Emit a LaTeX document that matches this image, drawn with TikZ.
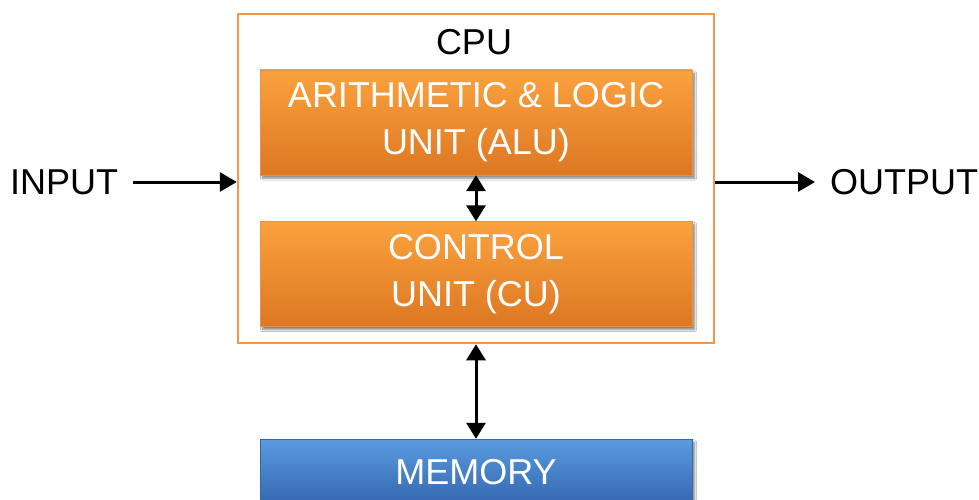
\documentclass[tikz,border=0pt]{standalone}
\usepackage{fontspec}
\setmainfont{Liberation Sans}
\usetikzlibrary{arrows.meta,positioning,shadows.blur}
\definecolor{cpuedge}{HTML}{F79646}
\definecolor{unittop}{HTML}{FBA23E}
\definecolor{unitbot}{HTML}{DD7722}
\definecolor{memtop}{HTML}{5A9BE0}
\definecolor{membot}{HTML}{3466AE}
\newcommand{\bigtext}{\fontsize{36}{47}\selectfont}

\tikzset{
  unitbox/.style={minimum width=432pt,minimum height=105pt,inner sep=0pt,
    align=center,text=white,font=\bigtext,
    top color=unittop,bottom color=unitbot,draw=unitbot!80!white,
    blur shadow={shadow xshift=2.5pt,shadow yshift=-3pt,shadow blur steps=6,shadow opacity=50}},
  membox/.style={unitbox,top color=memtop,bottom color=membot,draw=membot},
  link/.style={line width=3pt,{Triangle[width=19pt,length=16pt]}-{Triangle[width=19pt,length=16pt]}},
  flow/.style={line width=3pt,-{Triangle[width=19pt,length=17pt]}},
  label/.style={font=\bigtext,inner sep=0pt}
}

\begin{document}
\begin{tikzpicture}[x=1pt,y=-1pt]
  \clip (0,0) rectangle (979,500);
  \fill[white] (0,0) rectangle (979,500);
  % processor frame
  \node[draw=cpuedge,line width=2.5pt,minimum width=476pt,minimum height=329pt,inner sep=0pt]
    (cpu) at (476,178.5) {};
  \node[label] (cpulabel) at (474,42) {CPU};
  \node[unitbox] (alu) at (476,122.5) {ARITHMETIC \& LOGIC\\UNIT (ALU)};
  \node[unitbox] (cu) at (476,274) {CONTROL\\UNIT (CU)};
  \node[membox,minimum height=66pt] (mem) at (476,472) {MEMORY};
  % outside
  \node[label,anchor=west] (input) at (10,182) {INPUT};
  \node[label,anchor=west] (output) at (830,182) {OUTPUT};
  \draw[flow] ([xshift=15pt]input.east) -- (input.east -| cpu.west);
  \draw[flow] (cpu.east |- output.west) -- ([xshift=-15pt]output.west);
  \draw[link] (alu.south) -- (cu.north);
  \draw[link] (cpu.south) -- (mem.north);
\end{tikzpicture}
\end{document}
